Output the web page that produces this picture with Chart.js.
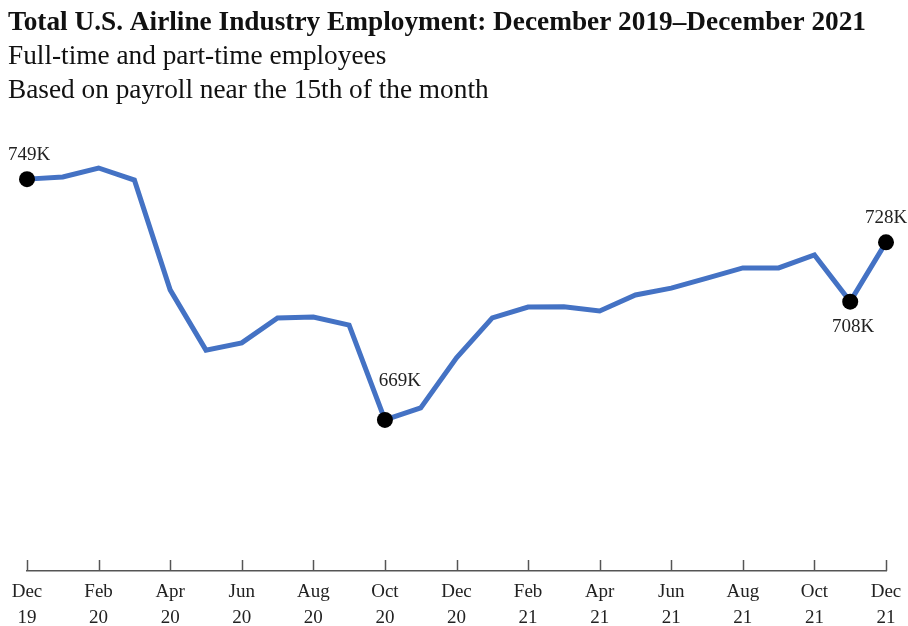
<!DOCTYPE html>
<html>
<head>
<meta charset="utf-8">
<script src="https://cdn.jsdelivr.net/npm/chart.js@4.4.3/dist/chart.umd.min.js"></script>
<style>
  html, body { margin: 0; padding: 0; background: #fff; }
  #wrap { width: 908px; height: 626px; }
</style>
</head>
<body>
<div id="wrap"><canvas id="chart" width="908" height="626"></canvas></div>
<script>
const months = ['Dec', 'Jan', 'Feb', 'Mar', 'Apr', 'May', 'Jun', 'Jul', 'Aug', 'Sep', 'Oct', 'Nov',
  'Dec', 'Jan', 'Feb', 'Mar', 'Apr', 'May', 'Jun', 'Jul', 'Aug', 'Sep', 'Oct', 'Nov', 'Dec'];
const years = ['19', '20', '20', '20', '20', '20', '20', '20', '20', '20', '20', '20',
  '20', '21', '21', '21', '21', '21', '21', '21', '21', '21', '21', '21', '21'];
// thousands of employees
const employment = [749, 749.7, 752.7, 748.7, 712.2, 692.2, 694.6, 702.9, 703.2, 700.5, 669, 673,
  689.6, 702.9, 706.5, 706.6, 705.2, 710.5, 712.8, 716.1, 719.5, 719.5, 723.8, 708.3, 728.0];
const marked = [0, 10, 23, 24];

const categories = months.map((m, i) => m + ' ' + years[i]);
const serif = "'Liberation Serif', 'Times New Roman', serif";

// short upward tick marks on the x axis, every other month
const upTicks = {
  id: 'upTicks',
  afterDraw(chart) {
    const { ctx, scales: { x }, chartArea } = chart;
    ctx.save();
    ctx.strokeStyle = '#555';
    ctx.lineWidth = 1.5;
    for (let i = 0; i < categories.length; i += 2) {
      const px = Math.round(x.getPixelForTick(i)) + 0.5;
      ctx.beginPath();
      ctx.moveTo(px, chartArea.bottom - 11);
      ctx.lineTo(px, chartArea.bottom);
      ctx.stroke();
    }
    ctx.restore();
  }
};

// value labels next to the black markers
const pointLabels = {
  id: 'pointLabels',
  afterDatasetsDraw(chart) {
    const { ctx } = chart;
    const pts = chart.getDatasetMeta(0).data;
    const offsets = { 0: [2, -24], 10: [15, -39], 23: [3, 25], 24: [0, -24] };
    ctx.save();
    ctx.font = "19px " + serif;
    ctx.fillStyle = '#222';
    ctx.textAlign = 'center';
    ctx.textBaseline = 'middle';
    marked.forEach(i => {
      const [dx, dy] = offsets[i];
      ctx.fillText(Math.round(employment[i]) + 'K', pts[i].x + dx, pts[i].y + dy);
    });
    ctx.restore();
  }
};

new Chart(document.getElementById('chart'), {
  type: 'line',
  data: {
    labels: categories,
    datasets: [{
      data: employment,
      borderColor: '#4472C4',
      borderWidth: 5,
      tension: 0,
      clip: false,
      pointRadius: employment.map((v, i) => marked.includes(i) ? 8 : 0),
      pointBackgroundColor: '#000',
      pointBorderWidth: 0,
      pointHoverRadius: 0
    }]
  },
  options: {
    responsive: false,
    animation: false,
    layout: { padding: { left: 8, right: 8, top: 0, bottom: 0 } },
    plugins: {
      legend: { display: false },
      tooltip: { enabled: false },
      title: {
        display: true,
        align: 'start',
        text: 'Total U.S. Airline Industry Employment: December 2019–December 2021',
        color: '#111',
        font: { family: serif, size: 27.3, weight: 'bold', lineHeight: 1.2 },
        padding: { top: 7, bottom: 0 }
      },
      subtitle: {
        display: true,
        align: 'start',
        text: ['Full-time and part-time employees', 'Based on payroll near the 15th of the month'],
        color: '#111',
        font: { family: serif, size: 27.3, lineHeight: 1.25 },
        padding: { top: 0, bottom: 4 }
      }
    },
    scales: {
      x: {
        type: 'category',
        offset: false,
        grid: { display: false, drawTicks: false },
        border: { display: true, color: '#555', width: 1.5 },
        ticks: {
          autoSkip: false,
          maxRotation: 0,
          padding: 8,
          color: '#222',
          font: { family: serif, size: 19, lineHeight: 1.37 },
          callback: (v, i) => i % 2 === 0 ? [months[i], years[i]] : ''
        },
        afterFit(scale) {
          scale.paddingLeft = 27;
          scale.paddingRight = 22;
          scale.height = 55;
        }
      },
      y: {
        display: false,
        min: 618.8,
        max: 771.3
      }
    }
  },
  plugins: [upTicks, pointLabels]
});
</script>
</body>
</html>
